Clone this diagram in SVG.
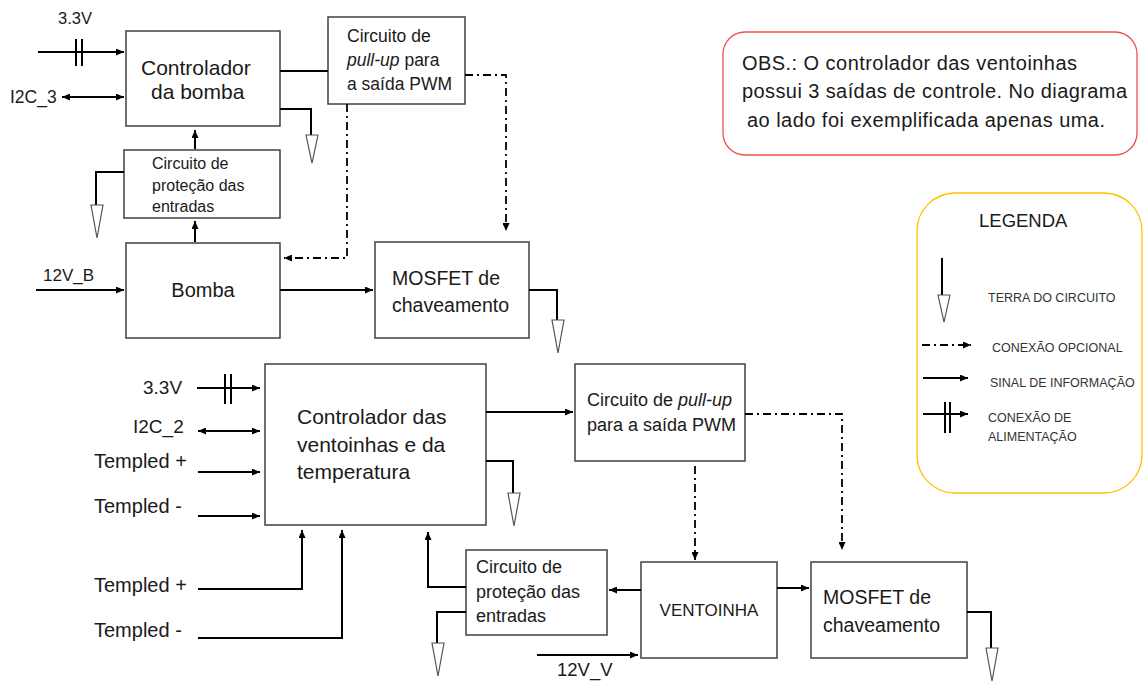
<svg xmlns="http://www.w3.org/2000/svg" xmlns:xlink="http://www.w3.org/1999/xlink" width="1143" height="681" viewBox="0 0 1143 681">
  <style>
    text { font-family: "Liberation Sans", Arial, sans-serif; fill: #1a1a1a; }
    .box { fill: #ffffff; stroke: #404040; stroke-width: 1.5; }
    .wire { fill: none; stroke: #000000; stroke-width: 2; }
    .opt { fill: none; stroke: #000000; stroke-width: 1.8; stroke-dasharray: 8 4 2 4; }
    .bar { stroke: #000000; stroke-width: 2; }
    .gnd { fill: #ffffff; stroke: #555555; stroke-width: 1.2; }
    .lg { font-size: 12.5px; fill: #333333; }
  </style>
  <defs>
    <marker id="arr" viewBox="0 0 8 7" refX="8" refY="3.5" markerWidth="8" markerHeight="7" markerUnits="userSpaceOnUse" orient="auto-start-reverse">
      <path d="M0,0 L8,3.5 L0,7 Z" fill="#000000"/>
    </marker>
    <!-- open-triangle ground symbol, apex pointing down -->
    <path id="gnd" class="gnd" d="M-6,0 L6,0 L0,33 Z"/>
  </defs>

  <rect width="1143" height="681" fill="#ffffff"/>

  <!-- ===== pump section ===== -->
  <g id="ctrl-bomba">
    <rect class="box" x="126" y="31" width="154" height="95"/>
    <text x="141" y="75" font-size="21">Controlador</text>
    <text x="151" y="99" font-size="21">da bomba</text>
  </g>
  <g id="prot-bomba">
    <rect class="box" x="124" y="150" width="156" height="68"/>
    <text x="152" y="169" font-size="16">Circuito de</text>
    <text x="152" y="191" font-size="16">proteção das</text>
    <text x="152" y="212" font-size="16">entradas</text>
  </g>
  <g id="bomba">
    <rect class="box" x="126" y="243" width="154" height="95"/>
    <text x="203" y="297" font-size="20" text-anchor="middle">Bomba</text>
  </g>
  <g id="pullup-bomba">
    <rect class="box" x="328" y="17" width="137" height="87"/>
    <text x="347" y="42" font-size="17.5">Circuito de</text>
    <text x="347" y="66" font-size="17.5"><tspan font-style="italic">pull-up</tspan> para</text>
    <text x="347" y="90" font-size="17.5">a saída PWM</text>
  </g>
  <g id="mosfet-bomba">
    <rect class="box" x="375" y="242" width="154" height="96"/>
    <text x="392" y="285" font-size="19.5">MOSFET de</text>
    <text x="392" y="312" font-size="19.5">chaveamento</text>
  </g>
  <g id="labels-bomba">
    <text x="58" y="24" font-size="16.5">3.3V</text>
    <text x="10" y="103" font-size="17.5">I2C_3</text>
    <text x="43" y="281" font-size="17">12V_B</text>
  </g>

  <!-- ===== fan / temperature section ===== -->
  <g id="ctrl-vent">
    <rect class="box" x="265" y="364" width="221" height="161"/>
    <text x="297" y="424" font-size="21">Controlador das</text>
    <text x="297" y="452" font-size="21">ventoinhas e da</text>
    <text x="297" y="479" font-size="21">temperatura</text>
  </g>
  <g id="pullup-vent">
    <rect class="box" x="575" y="364" width="170" height="97"/>
    <text x="587" y="406" font-size="18">Circuito de <tspan font-style="italic">pull-up</tspan></text>
    <text x="587" y="431" font-size="18">para a saída PWM</text>
  </g>
  <g id="prot-vent">
    <rect class="box" x="466" y="550" width="141" height="85"/>
    <text x="476" y="573" font-size="18">Circuito de</text>
    <text x="476" y="598" font-size="18">proteção das</text>
    <text x="476" y="622" font-size="18">entradas</text>
  </g>
  <g id="ventoinha">
    <rect class="box" x="641" y="562" width="136" height="96"/>
    <text x="709" y="616" font-size="17" text-anchor="middle">VENTOINHA</text>
  </g>
  <g id="mosfet-vent">
    <rect class="box" x="811" y="562" width="156" height="96"/>
    <text x="823" y="604" font-size="19.5">MOSFET de</text>
    <text x="823" y="632" font-size="19.5">chaveamento</text>
  </g>
  <g id="labels-vent">
    <text x="143" y="394" font-size="19">3.3V</text>
    <text x="133" y="433" font-size="19">I2C_2</text>
    <text x="94" y="468" font-size="20">Templed +</text>
    <text x="94" y="513" font-size="20">Templed -</text>
    <text x="94" y="592" font-size="20">Templed +</text>
    <text x="94" y="637" font-size="20">Templed -</text>
    <text x="557" y="676" font-size="18.5">12V_V</text>
  </g>

  <!-- ===== note ===== -->
  <g id="obs">
    <rect x="723" y="32" width="414" height="123" rx="22" fill="#ffffff" stroke="#f05050" stroke-width="1.3"/>
    <text x="742" y="70" font-size="20" textLength="335">OBS.: O controlador das ventoinhas</text>
    <text x="742" y="98" font-size="20" textLength="385">possui 3 saídas de controle. No diagrama</text>
    <text x="747" y="127" font-size="20" textLength="358">ao lado foi exemplificada apenas uma.</text>
  </g>

  <!-- ===== legend ===== -->
  <g id="legenda">
    <rect x="917" y="193" width="225" height="300" rx="38" fill="#ffffff" stroke="#ffc000" stroke-width="1.3"/>
    <text x="979" y="227" font-size="18.5">LEGENDA</text>
    <line class="wire" x1="942" y1="258" x2="942" y2="295"/>
    <use xlink:href="#gnd" x="944" y="295" transform="translate(0,0)" style="transform: scaleY(0.82); transform-origin: 944px 295px"/>
    <text class="lg" x="988" y="302">TERRA DO CIRCUITO</text>
    <line class="opt" x1="922" y1="345" x2="971" y2="345" marker-end="url(#arr)"/>
    <text class="lg" x="992" y="352">CONEXÃO OPCIONAL</text>
    <line class="wire" x1="923" y1="378" x2="968" y2="378" marker-end="url(#arr)"/>
    <text class="lg" x="990" y="387">SINAL DE INFORMAÇÃO</text>
    <line class="wire" x1="923" y1="414" x2="968" y2="414" marker-end="url(#arr)"/>
    <line class="bar" x1="945" y1="402" x2="945" y2="433"/>
    <line class="bar" x1="950" y1="402" x2="950" y2="433"/>
    <text class="lg" x="988" y="422">CONEXÃO DE</text>
    <text class="lg" x="988" y="441">ALIMENTAÇÃO</text>
  </g>

  <!-- ===== connectors ===== -->
  <g id="connectors">
    <!-- pump section -->
    <line class="wire" x1="38" y1="52" x2="124" y2="52" marker-end="url(#arr)"/>
    <line class="bar" x1="76" y1="39" x2="76" y2="66"/>
    <line class="bar" x1="82" y1="39" x2="82" y2="66"/>
    <line class="wire" x1="62" y1="97" x2="124" y2="97" marker-start="url(#arr)" marker-end="url(#arr)"/>
    <line class="wire" x1="195" y1="149" x2="195" y2="130" marker-end="url(#arr)"/>
    <line class="wire" x1="195" y1="242" x2="195" y2="221" marker-end="url(#arr)"/>
    <polyline class="wire" points="124,172 96,172 96,205"/>
    <use xlink:href="#gnd" x="97" y="205"/>
    <line class="wire" x1="36" y1="290" x2="124" y2="290" marker-end="url(#arr)"/>
    <line class="wire" x1="280" y1="290" x2="373" y2="290" marker-end="url(#arr)"/>
    <polyline class="wire" points="529,290 557,290 557,320"/>
    <use xlink:href="#gnd" x="558" y="320"/>
    <line class="wire" x1="280" y1="71" x2="328" y2="71"/>
    <polyline class="wire" points="280,109 311,109 311,135"/>
    <use xlink:href="#gnd" x="312" y="135" style="transform: scaleY(0.85); transform-origin: 312px 135px"/>
    <polyline class="opt" points="347,104 347,258 284,258" marker-end="url(#arr)"/>
    <polyline class="opt" points="465,75 506,75 506,231" marker-end="url(#arr)"/>

    <!-- fan / temperature section -->
    <line class="wire" x1="197" y1="388" x2="260" y2="388" marker-end="url(#arr)"/>
    <line class="bar" x1="225" y1="374" x2="225" y2="404"/>
    <line class="bar" x1="231" y1="374" x2="231" y2="404"/>
    <line class="wire" x1="198" y1="431" x2="260" y2="431" marker-start="url(#arr)" marker-end="url(#arr)"/>
    <line class="wire" x1="198" y1="472" x2="260" y2="472" marker-end="url(#arr)"/>
    <line class="wire" x1="198" y1="516" x2="260" y2="516" marker-end="url(#arr)"/>
    <polyline class="wire" points="198,589 302,589 302,530" marker-end="url(#arr)"/>
    <polyline class="wire" points="198,638 342,638 342,530" marker-end="url(#arr)"/>
    <polyline class="wire" points="466,587 428,587 428,532" marker-end="url(#arr)"/>
    <polyline class="wire" points="466,612 437,612 437,643"/>
    <use xlink:href="#gnd" x="438" y="643"/>
    <line class="wire" x1="486" y1="412" x2="573" y2="412" marker-end="url(#arr)"/>
    <polyline class="wire" points="486,461 513,461 513,493"/>
    <use xlink:href="#gnd" x="514" y="493"/>
    <line class="opt" x1="695" y1="466" x2="695" y2="560" marker-end="url(#arr)"/>
    <polyline class="opt" points="745,414 842,414 842,550" marker-end="url(#arr)"/>
    <line class="wire" x1="641" y1="590" x2="609" y2="590" marker-end="url(#arr)"/>
    <line class="wire" x1="537" y1="655" x2="638" y2="655" marker-end="url(#arr)"/>
    <line class="wire" x1="777" y1="588" x2="809" y2="588" marker-end="url(#arr)"/>
    <polyline class="wire" points="967,612 991,612 991,648"/>
    <use xlink:href="#gnd" x="992" y="648"/>
  </g>
</svg>
